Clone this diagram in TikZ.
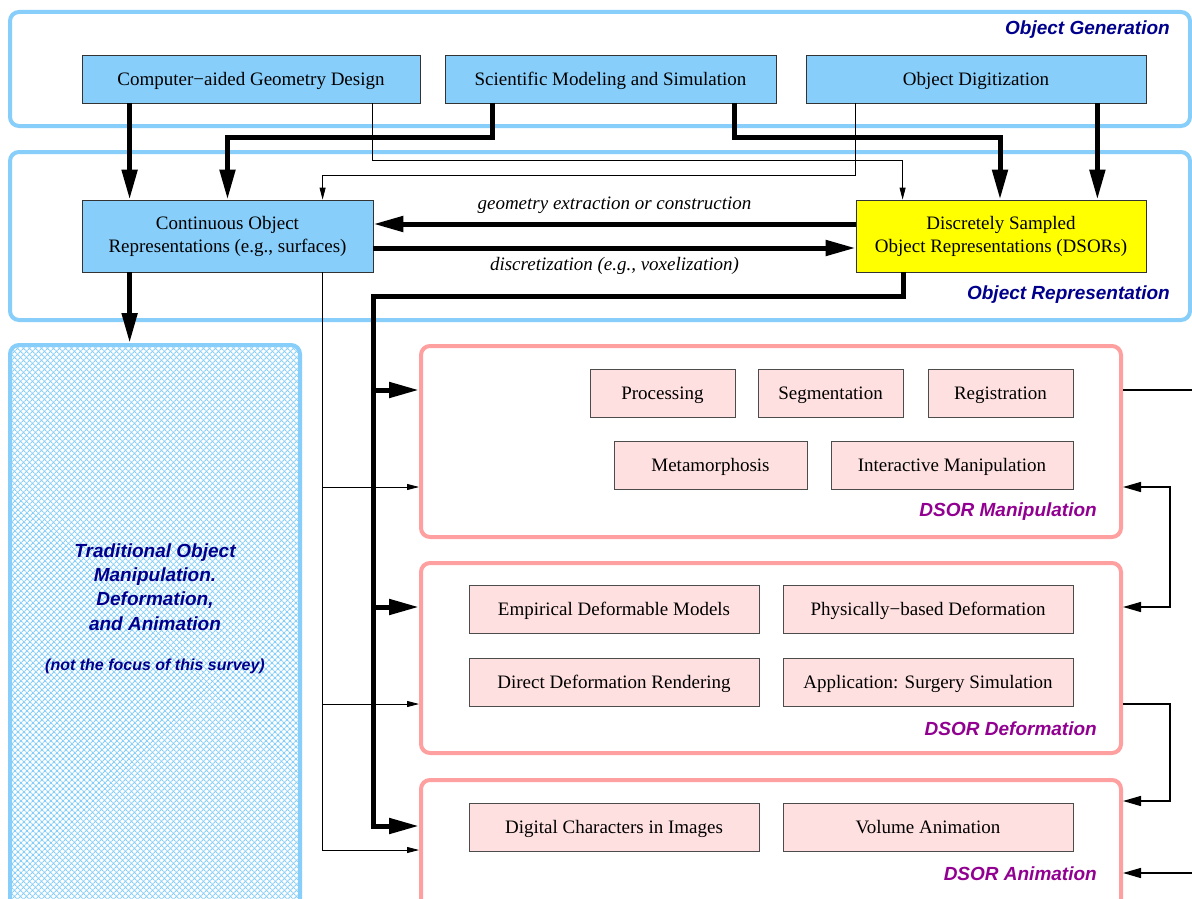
\documentclass[tikz,border=0pt]{standalone}
\usepackage{fontspec}
\setmainfont{Liberation Serif}
\newfontfamily\lblfont{Liberation Sans}
\usetikzlibrary{arrows.meta,patterns.meta,calc}
\definecolor{skyb}{RGB}{135,206,250}
\definecolor{framepink}{RGB}{255,160,160}
\definecolor{boxpink}{RGB}{255,224,224}
\definecolor{navylbl}{RGB}{0,0,140}
\definecolor{purplbl}{RGB}{145,0,145}
\definecolor{yel}{RGB}{255,255,0}
\tikzset{
  bluebox/.style={draw=black!80, line width=0.8pt, fill=skyb, minimum height=48pt, font=\fontsize{19}{23}\selectfont, align=center, inner sep=0pt},
  oneline/.style={text height=14pt, text depth=2pt},
  pinkbox/.style={draw=black!70, line width=0.8pt, fill=boxpink, minimum height=48pt, font=\fontsize{19}{23}\selectfont, inner sep=0pt, text height=14pt, text depth=2pt},
  bframe/.style={draw=skyb, line width=4pt, rounded corners=9pt, inner sep=0pt},
  pframe/.style={draw=framepink, line width=4pt, rounded corners=9pt, inner sep=0pt},
  glbl/.style={font=\lblfont\bfseries\itshape\fontsize{19}{23}\selectfont, text=navylbl, anchor=east, inner sep=0pt},
  plbl/.style={font=\lblfont\bfseries\itshape\fontsize{19}{23}\selectfont, text=purplbl, anchor=east, inner sep=0pt},
  elbl/.style={font=\itshape\fontsize{19}{23}\selectfont, inner sep=0pt},
  thk/.style={line width=5pt, -{Triangle[length=30pt,width=15pt]}},
  thkline/.style={line width=5pt},
  thn/.style={line width=0.8pt, -{Triangle[length=12pt,width=6pt]}},
  thnline/.style={line width=0.8pt},
  med/.style={line width=1.4pt, -{Triangle[length=18pt,width=10pt]}},
  medline/.style={line width=1.4pt},
}
\begin{document}
\begin{tikzpicture}[x=1pt,y=-1pt]
\useasboundingbox (0,0) rectangle (1192,899);
\clip (0,0) rectangle (1192,899);
\fill[white] (0,0) rectangle (1192,899);
% frames
\node[bframe, minimum width=1180pt, minimum height=114pt] (Gen) at (600,69) {};
\node[bframe, minimum width=1180pt, minimum height=168pt] (Rep) at (600,236) {};
\node[glbl] (genlbl) at (1170,30) {Object Generation};
\node[glbl] (replbl) at (1170,295) {Object Representation};
% traditional
\path[pattern={Lines[angle=45,distance=4pt,line width=1.1pt]}, pattern color=skyb, rounded corners=9pt] (10,345) rectangle (300,920);
\path[pattern={Lines[angle=-45,distance=4pt,line width=1.1pt]}, pattern color=skyb, rounded corners=9pt] (10,345) rectangle (300,920);
\node[bframe, minimum width=290pt, minimum height=575pt] (Trad) at (155,632.5) {};
\node[font=\lblfont\bfseries\itshape\fontsize{19}{24.2}\selectfont, text=navylbl, align=center, inner sep=0pt] (tradtext) at (155,587) {Traditional Object\\Manipulation.\\Deformation,\\and Animation};
\node[font=\lblfont\bfseries\itshape\fontsize{16}{19}\selectfont, text=navylbl, inner sep=0pt] (tradnote) at (155,666) {(not the focus of this survey)};
% top boxes
\node[bluebox, oneline, minimum width=338pt] (CAGD) at (251,79) {Computer−aided Geometry Design};
\node[bluebox, oneline, minimum width=331pt] (SMS) at (610.5,79) {Scientific Modeling and Simulation};
\node[bluebox, oneline, minimum width=340pt] (OD) at (976,79) {Object Digitization};
\node[bluebox, minimum width=291pt, minimum height=72pt] (CORep) at (227.5,236) {Continuous Object\\Representations (e.g., surfaces)};
\node[bluebox, fill=yel, minimum width=290pt, minimum height=72pt] (DSOR) at (1001,236) {Discretely Sampled\\Object Representations (DSORs)};
% DSOR frames
\node[pframe, minimum width=700pt, minimum height=191pt] (Manip) at (771,441.5) {};
\node[pframe, minimum width=700pt, minimum height=190pt] (Deform) at (771,658) {};
\node[pframe, minimum width=700pt, minimum height=140pt] (Anim) at (771,850) {};
\node[plbl] (manlbl) at (1097,512) {DSOR Manipulation};
\node[plbl] (deflbl) at (1097,729) {DSOR Deformation};
\node[plbl] (anilbl) at (1097,874) {DSOR Animation};
% inner boxes
\node[pinkbox, minimum width=145pt] (Proc) at (662.5,393) {Processing};
\node[pinkbox, minimum width=145pt] (Seg) at (830.5,393) {Segmentation};
\node[pinkbox, minimum width=145pt] (Reg) at (1000.5,393) {Registration};
\node[pinkbox, minimum width=193pt] (Meta) at (710.5,465) {Metamorphosis};
\node[pinkbox, minimum width=242pt] (Inter) at (952,465) {Interactive Manipulation};
\node[pinkbox, minimum width=290pt] (Emp) at (614,609) {Empirical Deformable Models};
\node[pinkbox, minimum width=290pt] (Phys) at (928,609) {Physically−based Deformation};
\node[pinkbox, minimum width=290pt] (Direct) at (614,682) {Direct Deformation Rendering};
\node[pinkbox, minimum width=290pt] (Appl) at (928,682) {Application: Surgery Simulation};
\node[pinkbox, minimum width=290pt] (Digi) at (614,827) {Digital Characters in Images};
\node[pinkbox, minimum width=290pt] (Vol) at (928,827) {Volume Animation};
% generation -> representation
\draw[thk] ([xshift=48pt]CAGD.south west) -- ([xshift=48pt]CORep.north west);
\draw[thn] ([xshift=291pt]CAGD.south west) -- ++(0,57) -| ([xshift=47pt]DSOR.north west);
\draw[thk] ([xshift=48pt]SMS.south west) -- ++(0,34) -| (CORep.north);
\draw[thk] ([xshift=290pt]SMS.south west) -- ++(0,34) -| ([xshift=-1pt]DSOR.north);
\draw[thn] ([xshift=50pt]OD.south west) -- ++(0,72) -| ([xshift=241pt]CORep.north west);
\draw[thk] ([xshift=-49pt]OD.south east) -- ([xshift=-49pt]DSOR.north east);
% between representations
\draw[thk] ([yshift=12pt]DSOR.west) -- node[elbl, above=8pt] (lblgeo) {geometry extraction or construction} ([yshift=12pt]CORep.east);
\draw[thk] ([yshift=-12pt]CORep.east) -- node[elbl, below=7pt] (lbldis) {discretization (e.g., voxelization)} ([yshift=-12pt]DSOR.west);
\draw[thk] ([xshift=48pt]CORep.south west) -- ([xshift=48pt]CORep.south west |- Trad.north);
% thin trunk from continuous
\coordinate (t0) at ([xshift=241pt]CORep.south west);
\coordinate (m2) at ([yshift=-143pt]Manip.north west);
\coordinate (d2) at ([yshift=-143pt]Deform.north west);
\coordinate (a2) at ([yshift=-72pt]Anim.north west);
\draw[thn] (t0) |- (a2);
\draw[thn] (t0 |- m2) -- (m2);
\draw[thn] (t0 |- d2) -- (d2);
% thick trunk from DSOR
\coordinate (k0) at ([yshift=-24pt]CORep.south east);
\coordinate (m1) at ([yshift=-46pt]Manip.north west);
\coordinate (d1) at ([yshift=-46pt]Deform.north west);
\coordinate (a1) at ([yshift=-48pt]Anim.north west);
\draw[thkline, line join=miter] ([xshift=48pt]DSOR.south west) |- (k0) -- (k0 |- a1);
\draw[thk] ([xshift=-2.5pt]k0 |- m1) -- (m1);
\draw[thk] ([xshift=-2.5pt]k0 |- d1) -- (d1);
\draw[thk] ([xshift=-2.5pt]k0 |- a1) -- (a1);
% right side
\coordinate (me1) at ([yshift=-46pt]Manip.north east);
\coordinate (me2) at ([yshift=-143pt]Manip.north east);
\coordinate (de1) at ([yshift=-46pt]Deform.north east);
\coordinate (de2) at ([yshift=-143pt]Deform.north east);
\coordinate (ae1) at ([yshift=-23pt]Anim.north east);
\coordinate (ae2) at ([yshift=-95pt]Anim.north east);
\draw[medline] (me1) -- ++(90,0);
\draw[medline, {Triangle[length=18pt,width=10pt]}-{Triangle[length=18pt,width=10pt]}] (me2) -- ++(47,0) |- (de1);
\draw[med] (de2) -- ++(47,0) |- (ae1);
\draw[med] ([xshift=90pt]ae2) -- (ae2);
\end{tikzpicture}
\end{document}
